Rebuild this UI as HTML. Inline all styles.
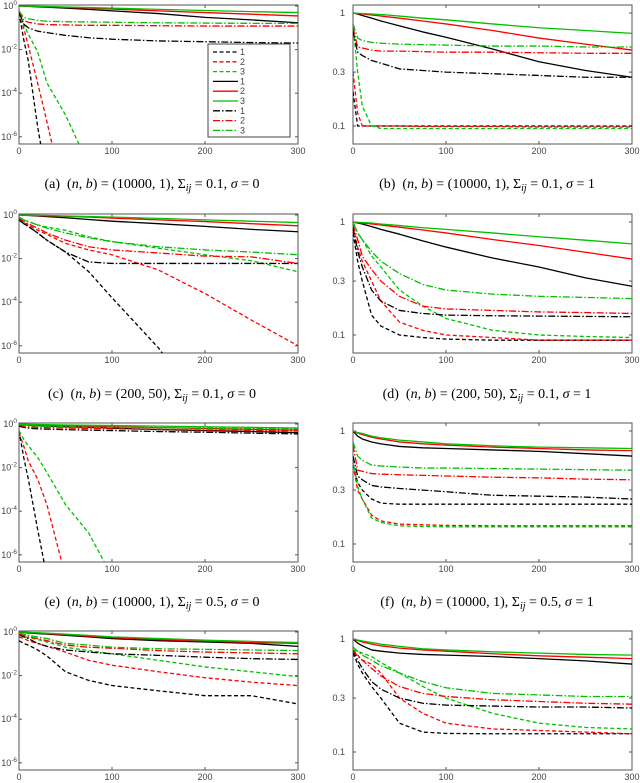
<!DOCTYPE html>
<html><head><meta charset="utf-8">
<style>
body{margin:0;background:#fff;}
svg{display:block;}
.tk{font-family:"Liberation Sans",sans-serif;font-size:9px;fill:#444;}
.cap{font-family:"Liberation Serif",serif;font-size:14px;fill:#000;}
</style></head>
<body>
<svg id="fig" width="640" height="783" viewBox="0 0 640 783" xmlns="http://www.w3.org/2000/svg"></svg>
<script>
const xs = [0,5,10,20,30,50,75,100,150,200,250,300];
const xTicks = [0,100,200,300];
const leftTickExps = [0,-2,-4,-6];
const rightTickVals = [1,0.3,0.1];
const rightTickLabels = ["1","0.3","0.1"];
const legendLabels = ["1","2","3","1","2","3","1","2","3"];
const seriesNames = ["dashed-1","dashed-2","dashed-3","solid-1","solid-2","solid-3","dashdot-1","dashdot-2","dashdot-3"];
const captions = [
 ["a","10000, 1","0.1","0"],["b","10000, 1","0.1","1"],
 ["c","200, 50","0.1","0"],["d","200, 50","0.1","1"],
 ["e","10000, 1","0.5","0"],["f","10000, 1","0.5","1"]];

const panelA = [
 [.5,.03,3e-3,3e-6,1e-8,1e-9,1e-9,1e-9,1e-9,1e-9,1e-9,1e-9],
 [.5,.1,.015,3e-4,5e-6,1e-9,1e-9,1e-9,1e-9,1e-9,1e-9,1e-9],
 [.6,.15,.05,8e-3,3e-4,1e-5,5e-8,1e-9,1e-9,1e-9,1e-9,1e-9],
 [1,.98,.96,.92,.88,.8,.7,.6,.45,.3,.23,.17],
 [1,.99,.97,.95,.92,.87,.8,.72,.6,.5,.42,.35],
 [1,.99,.98,.96,.95,.9,.85,.8,.7,.62,.55,.5],
 [.5,.15,.1,.07,.06,.045,.035,.03,.025,.023,.021,.02],
 [.6,.22,.18,.15,.14,.135,.13,.13,.125,.12,.12,.12],
 [.6,.3,.26,.22,.2,.19,.185,.18,.17,.165,.16,.16]];
const panelB = [
 [.2,.1,.1,.1,.1,.1,.1,.1,.1,.1,.1,.1],
 [.3,.13,.1,.1,.1,.1,.099,.099,.099,.098,.098,.098],
 [.8,.3,.15,.1,.095,.095,.095,.095,.095,.095,.095,.095],
 [1,.98,.95,.9,.85,.77,.68,.61,.48,.37,.31,.27],
 [1,.99,.98,.96,.94,.9,.85,.8,.7,.6,.53,.47],
 [1,.995,.99,.98,.97,.94,.9,.87,.8,.74,.7,.66],
 [.7,.45,.42,.38,.36,.32,.31,.3,.29,.28,.27,.27],
 [.75,.5,.49,.47,.46,.46,.455,.45,.45,.445,.44,.44],
 [.8,.6,.57,.55,.54,.53,.525,.52,.51,.51,.5,.5]];
const panelC = [
 [.6,.4,.3,.15,.07,.02,2.5e-3,1.6e-4,8e-7,1e-9,1e-9,1e-9],
 [.6,.45,.35,.2,.13,.05,.025,.015,3e-3,2.5e-4,1.5e-5,1e-6],
 [.8,.6,.5,.35,.28,.2,.1,.06,.03,.015,8e-3,2.5e-3],
 [1,.97,.95,.9,.85,.75,.62,.52,.4,.3,.22,.17],
 [1,.98,.97,.95,.92,.87,.8,.72,.6,.5,.4,.32],
 [1,.99,.98,.96,.95,.9,.85,.8,.7,.6,.52,.45],
 [.6,.4,.3,.15,.07,.02,7e-3,6e-3,6e-3,6e-3,6e-3,6e-3],
 [.7,.5,.4,.25,.15,.07,.035,.025,.018,.013,.012,6e-3],
 [.8,.6,.5,.35,.25,.15,.09,.06,.035,.025,.02,.015]];
const panelD = [
 [.8,.45,.3,.15,.12,.1,.095,.092,.09,.09,.09,.09],
 [.9,.6,.45,.3,.2,.13,.11,.1,.095,.09,.09,.09],
 [1,.8,.7,.5,.4,.25,.18,.14,.11,.1,.097,.095],
 [1,.98,.96,.91,.86,.78,.68,.6,.48,.4,.32,.27],
 [1,.99,.98,.96,.94,.9,.85,.8,.7,.62,.54,.47],
 [1,.995,.99,.98,.96,.93,.89,.86,.8,.74,.69,.64],
 [.9,.55,.4,.25,.2,.165,.155,.15,.148,.147,.146,.145],
 [.95,.7,.5,.38,.3,.22,.18,.17,.165,.16,.158,.155],
 [1,.8,.7,.55,.45,.35,.28,.25,.23,.22,.215,.21]];
const panelE = [
 [.5,.03,3e-3,1.5e-5,1e-7,1e-9,1e-9,1e-9,1e-9,1e-9,1e-9,1e-9],
 [.4,.1,.02,3e-3,2e-4,1e-7,1e-9,1e-9,1e-9,1e-9,1e-9,1e-9],
 [.5,.2,.1,.03,6e-3,2e-4,1e-5,1e-7,1e-9,1e-9,1e-9,1e-9],
 [1,.95,.9,.85,.8,.75,.7,.65,.55,.5,.45,.4],
 [1,.97,.95,.9,.88,.85,.8,.75,.68,.62,.57,.52],
 [1,.98,.97,.95,.93,.9,.87,.85,.8,.75,.7,.65],
 [.8,.7,.65,.6,.58,.55,.52,.5,.45,.42,.38,.35],
 [.9,.8,.75,.7,.68,.65,.62,.6,.57,.53,.5,.48],
 [.95,.9,.85,.8,.78,.75,.72,.7,.68,.65,.62,.6]];
const panelF = [
 [.5,.35,.3,.25,.23,.225,.225,.225,.225,.225,.225,.225],
 [.5,.3,.25,.18,.16,.15,.148,.146,.145,.145,.145,.145],
 [.55,.32,.25,.17,.155,.145,.143,.142,.142,.142,.142,.142],
 [1,.9,.85,.8,.77,.73,.71,.7,.68,.66,.63,.6],
 [1,.96,.93,.88,.85,.8,.77,.75,.72,.7,.68,.67],
 [1,.97,.95,.9,.87,.83,.8,.77,.74,.72,.71,.7],
 [.6,.4,.37,.33,.32,.31,.3,.29,.27,.265,.26,.25],
 [.75,.45,.44,.42,.415,.41,.405,.4,.39,.385,.375,.37],
 [.8,.6,.55,.5,.49,.48,.47,.47,.465,.46,.455,.45]];
const panelG = [
 [.4,.3,.25,.15,.08,.015,6e-3,3.5e-3,2e-3,1.2e-3,1.2e-3,5e-4],
 [.6,.5,.4,.3,.22,.12,.05,.03,.015,8e-3,5e-3,3.5e-3],
 [.7,.6,.55,.45,.35,.2,.14,.1,.05,.025,.015,9e-3],
 [1,.95,.9,.85,.8,.7,.6,.5,.4,.35,.3,.22],
 [1,.97,.95,.9,.85,.75,.65,.55,.45,.38,.33,.3],
 [1,.98,.96,.92,.88,.8,.7,.6,.5,.42,.37,.33],
 [.8,.6,.5,.3,.22,.15,.12,.1,.085,.07,.06,.055],
 [.8,.7,.6,.5,.4,.25,.2,.18,.14,.12,.11,.1],
 [.9,.8,.7,.6,.5,.3,.25,.2,.17,.16,.15,.14]];
const panelH = [
 [.75,.6,.5,.38,.3,.18,.15,.146,.145,.145,.145,.145],
 [.8,.72,.65,.6,.5,.3,.22,.18,.16,.155,.15,.145],
 [.8,.78,.75,.7,.62,.5,.38,.3,.22,.18,.165,.16],
 [1,.92,.87,.8,.78,.75,.73,.72,.7,.67,.64,.6],
 [1,.97,.94,.9,.87,.83,.8,.78,.74,.71,.69,.67],
 [1,.98,.96,.93,.9,.86,.82,.8,.77,.75,.73,.72],
 [.8,.65,.55,.42,.36,.3,.27,.26,.255,.25,.25,.245],
 [.8,.7,.65,.55,.47,.38,.33,.31,.29,.28,.27,.265],
 [.85,.78,.72,.65,.58,.5,.42,.37,.33,.32,.31,.31]];

const panels = [panelA,panelB,panelC,panelD,panelE,panelF,panelG,panelH];
const NS = "http://www.w3.org/2000/svg";
const svg = document.getElementById('fig');
const colors = ["#000","#f00","#00c000"];
const dashes = ["4,2.5","", "7,2,1.5,2"];
const rowTops = [5,214,423,631], H = 139, colX = [19,353], W = 279;

function mk(tag, attrs, parent){const e=document.createElementNS(NS,tag);for(const k in attrs)e.setAttribute(k,attrs[k]);(parent||svg).appendChild(e);return e;}

panels.forEach((data, p) => {
  const row = Math.floor(p/2), col = p%2, left = col===0;
  const x0 = colX[col], y0 = rowTops[row];
  const g = mk('g', {});
  
  
  const xScale = v => x0 + v/300*W;
  const yScale = left
    ? v => y0 + 1 - Math.log10(Math.max(v,1e-12))*21.8
    : v => y0 + 8 - Math.log10(v)*113;
  const clipId = 'clip'+p;
  const cp = mk('clipPath',{id:clipId},g); mk('rect',{x:x0,y:y0,width:W,height:H},cp);
  const fr = mk('rect',{x:x0,y:y0,width:W,height:H,fill:'#fff',stroke:'#555','stroke-width':1},g);
  
  
  xTicks.forEach(t => {
    const x = xScale(t);
    mk('line',{x1:x,x2:x,y1:y0+H,y2:y0+H-3,stroke:'#555'},g);
    mk('line',{x1:x,x2:x,y1:y0,y2:y0+3,stroke:'#555'},g);
    const tx = mk('text',{x:x,y:y0+H+10,'text-anchor':'middle',class:'tk'},g);
    tx.textContent = t;
    
    
  });
  if (left) {
    leftTickExps.forEach(e => {
      const y = yScale(Math.pow(10,e));
      mk('line',{x1:x0,x2:x0+3,y1:y,y2:y,stroke:'#555'},g);
      mk('line',{x1:x0+W,x2:x0+W-3,y1:y,y2:y,stroke:'#555'},g);
      const tx = mk('text',{x:x0-2,y:y+3,'text-anchor':'end',class:'tk'},g);
      
      
      tx.textContent = '10';
      const sup = mk('tspan',{dy:-4,'font-size':'6.5px'},tx); sup.textContent = String(e);
    });
  } else {
    rightTickVals.forEach((v,i) => {
      const y = yScale(v);
      mk('line',{x1:x0,x2:x0+3,y1:y,y2:y,stroke:'#555'},g);
      mk('line',{x1:x0+W,x2:x0+W-3,y1:y,y2:y,stroke:'#555'},g);
      const tx = mk('text',{x:x0-8,y:y+3,'text-anchor':'end',class:'tk'},g);
      
      
      tx.textContent = rightTickLabels[i];
    });
  }
  const sg = mk('g',{'clip-path':'url(#'+clipId+')'},g);
  data.forEach((vals, s) => {
    const d = vals.map((v,i)=> (i?'L':'M') + xScale(xs[i]).toFixed(2) + ',' + yScale(v).toFixed(2)).join(' ');
    const attrs = {d:d,fill:'none',stroke:colors[s%3],'stroke-width':1.3,'stroke-linejoin':'round'};
    const ds = dashes[Math.floor(s/3)]; if (ds) attrs['stroke-dasharray'] = ds;
    const path = mk('path',attrs,sg);
    
    
  });
  if (p === 0) {
    const lg = mk('g',{},g);
    
    
    mk('rect',{x:208,y:44,width:82,height:93,fill:'#fff',stroke:'#444','stroke-width':1},lg);
    legendLabels.forEach((lab,s) => {
      const y = 52 + s*9.8;
      const attrs = {x1:213,x2:238,y1:y,y2:y,stroke:colors[s%3],'stroke-width':1.3};
      const ds = dashes[Math.floor(s/3)]; if (ds) attrs['stroke-dasharray'] = ds;
      const ln = mk('line',attrs,lg);
      
      
      const t = mk('text',{x:240,y:y+3,class:'tk',fill:'#000'},lg);
      t.textContent = lab;
      
      
    });
  }
  if (p < 6) {
    const cy = [188,398,606][row];
    const cx = left ? 152 : 487;
    const c = captions[p];
    const t = mk('text',{x:cx,y:cy,'text-anchor':'middle',class:'cap'},g);
    
    
    const parts = [
      ['('+c[0]+')\u2002(',''],['n','i'],[', ',''],['b','i'],[') = ('+c[1]+'), \u03A3',''],
      ['ij','s'],[' = '+c[2]+', ',''],['\u03C3','i'],[' = '+c[3],'']];
    let sub=false;
    parts.forEach(([txt,st]) => {
      const ts = mk('tspan',{},t);
      if (st==='i') ts.setAttribute('font-style','italic');
      if (st==='s') { ts.setAttribute('font-style','italic'); ts.setAttribute('font-size','10px'); ts.setAttribute('dy','3'); sub=true; }
      else if (sub) { ts.setAttribute('dy','-3'); sub=false; }
      ts.textContent = txt;
    });
  }
});
</script>
</body></html>
